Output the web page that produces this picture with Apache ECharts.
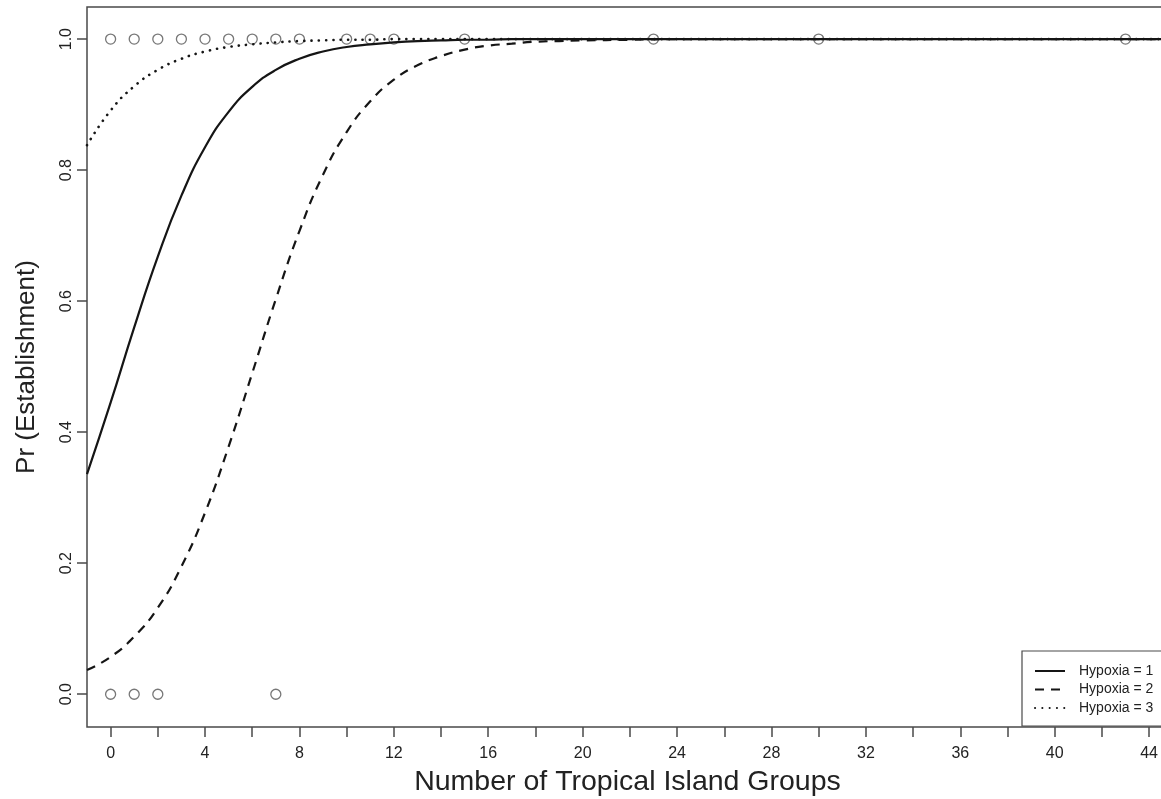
<!DOCTYPE html>
<html lang="en">
<head>
  <meta charset="UTF-8">
  <title>Pr (Establishment)</title>
  <style>
    html, body { margin: 0; padding: 0; background: #fff; }
    #main { width: 1161px; height: 799px; }
  </style>
</head>
<body>
  <div id="main"></div>
  <script src="https://cdn.jsdelivr.net/npm/echarts@6/dist/echarts.min.js"></script>
  <script>
    // fitted curves
    const curveX = [-1, 0, 1, 2, 3, 4, 5, 6, 7, 8, 9, 10, 11, 12, 13, 14, 15, 16, 17, 18, 19, 20, 22, 24, 28, 32, 36, 40, 44, 46]
    const hypoxia1 = [0.336, 0.445, 0.560, 0.668, 0.761, 0.835, 0.889, 0.927, 0.953, 0.970, 0.981, 0.988, 0.992, 0.995, 0.997, 0.998, 0.999, 0.999, 1, 1, 1, 1, 1, 1, 1, 1, 1, 1, 1, 1]
    const hypoxia2 = [0.037, 0.057, 0.088, 0.132, 0.195, 0.277, 0.378, 0.490, 0.603, 0.707, 0.793, 0.858, 0.905, 0.938, 0.960, 0.974, 0.984, 0.990, 0.993, 0.996, 0.997, 0.998, 0.999, 1, 1, 1, 1, 1, 1, 1]
    const hypoxia3 = [0.838, 0.891, 0.928, 0.953, 0.970, 0.981, 0.988, 0.992, 0.995, 0.997, 0.998, 0.999, 0.999, 1, 1, 1, 1, 1, 1, 1, 1, 1, 1, 1, 1, 1, 1, 1, 1, 1]

    // observed points
    const establishedX = [0, 1, 2, 3, 4, 5, 6, 7, 8, 10, 11, 12, 15, 23, 30, 43]
    const failedX = [0, 1, 2, 7]

    const xTicks = [0, 2, 4, 6, 8, 10, 12, 14, 16, 18, 20, 22, 24, 26, 28, 30, 32, 34, 36, 38, 40, 42, 44]
    const xLabels = [0, 4, 8, 12, 16, 20, 24, 28, 32, 36, 40, 44]
    const yTicks = [0, 0.2, 0.4, 0.6, 0.8, 1.0]

    const legendNames = ['Hypoxia = 1', 'Hypoxia = 2', 'Hypoxia = 3']

    const pair = (xs, ys) => xs.map((x, i) => [x, ys[i]])
    const font = 'Liberation Sans, Arial, Helvetica, sans-serif'
    const ink = '#151515'
    const frame = '#4a4a4a'

    const chart = echarts.init(document.getElementById('main'))
    const option = {
      animation: false,
      backgroundColor: '#fff',
      grid: {
        left: 87, top: 7, bottom: 72, right: -7,
        outerBoundsMode: 'none',
        show: true, borderColor: frame, borderWidth: 1.5, backgroundColor: 'transparent'
      },
      legend: {
        data: legendNames,
        orient: 'vertical',
        left: 1022,
        top: 651,
        padding: [13, 60, 11, 12],
        itemGap: 4.5,
        itemWidth: 30,
        itemHeight: 14,
        itemStyle: { opacity: 0 },
        borderColor: frame,
        borderWidth: 1.2,
        backgroundColor: '#fff',
        textStyle: { fontFamily: font, fontSize: 14, color: '#222', padding: [0, 0, 0, 9] }
      },
      xAxis: {
        type: 'value',
        min: -1,
        max: 44.8,
        splitLine: { show: false },
        axisLine: { show: false, onZero: false },
        axisTick: { show: true, customValues: xTicks, length: 10, lineStyle: { color: frame, width: 1.5 } },
        axisLabel: {
          customValues: xLabels, margin: 19,
          fontFamily: font, fontSize: 16, color: '#222'
        },
        name: 'Number of Tropical Island Groups',
        nameLocation: 'middle',
        nameGap: 41,
        nameTextStyle: { fontFamily: font, fontSize: 28.5, color: '#222' }
      },
      yAxis: {
        type: 'value',
        min: -0.05,
        max: 1.049,
        splitLine: { show: false },
        axisLine: { show: false, onZero: false },
        axisTick: { show: true, customValues: yTicks, length: 10, lineStyle: { color: frame, width: 1.5 } },
        axisLabel: {
          customValues: yTicks, rotate: 90, margin: 12,
          fontFamily: font, fontSize: 16, color: '#222',
          formatter: v => v.toFixed(1)
        },
        name: 'Pr (Establishment)',
        nameLocation: 'middle',
        nameGap: 47,
        nameTextStyle: { fontFamily: font, fontSize: 26, color: '#222' }
      },
      series: [
        {
          type: 'scatter',
          data: establishedX.map(x => [x, 1]),
          symbol: 'circle',
          symbolSize: 10,
          itemStyle: { color: 'rgba(255,255,255,0)', borderColor: '#555', borderWidth: 1.3 },
          z: 1
        },
        {
          type: 'scatter',
          data: failedX.map(x => [x, 0]),
          symbol: 'circle',
          symbolSize: 10,
          itemStyle: { color: 'rgba(255,255,255,0)', borderColor: '#555', borderWidth: 1.3 },
          z: 1
        },
        {
          name: legendNames[0],
          type: 'line',
          data: pair(curveX, hypoxia1),
          smooth: 0.5,
          symbol: 'none',
          lineStyle: { color: ink, width: 2.2, type: 'solid' },
          itemStyle: { color: ink },
          z: 3
        },
        {
          name: legendNames[1],
          type: 'line',
          data: pair(curveX, hypoxia2),
          smooth: 0.5,
          symbol: 'none',
          lineStyle: { color: ink, width: 2.2, type: [9, 7] },
          itemStyle: { color: ink },
          z: 3
        },
        {
          name: legendNames[2],
          type: 'line',
          data: pair(curveX, hypoxia3),
          smooth: 0.5,
          symbol: 'none',
          lineStyle: { color: ink, width: 2.6, type: [0.1, 7.2], cap: 'round' },
          itemStyle: { color: ink },
          z: 3
        }
      ]
    }
    chart.setOption(option)
  </script>
</body>
</html>
